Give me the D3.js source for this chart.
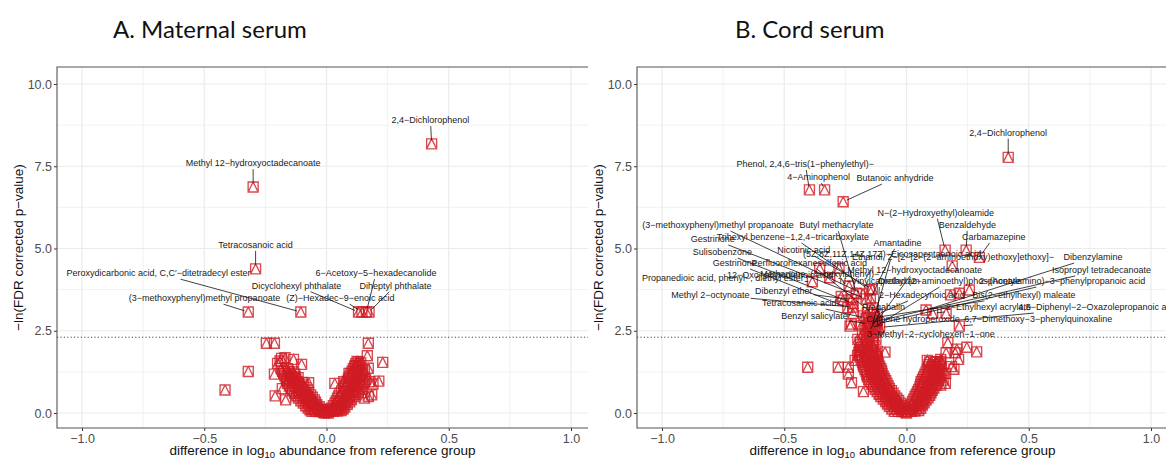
<!DOCTYPE html>
<html>
<head>
<meta charset="utf-8">
<script src="https://cdn.jsdelivr.net/npm/d3@7"></script>
<style>
body { margin: 0; background: #fff; }
svg { display: block; }
</style>
</head>
<body>
<script>
// axis ticks
const xTicks = [-1, -0.5, 0, 0.5, 1];
const xMinor = [-0.75, -0.25, 0.25, 0.75];
const yTicks = [0, 2.5, 5, 7.5, 10];
const yMinor = [1.25, 3.75, 6.25, 8.75];
const fdrCut = 2.303;  // -ln(0.1)

// A. maternal serum - labelled compounds
const maternalHits = [
    { name: "2,4−Dichlorophenol", x: 0.43, y: 8.18 },
    { name: "Methyl 12−hydroxyoctadecanoate", x: -0.30, y: 6.87 },
    { name: "Tetracosanoic acid", x: -0.29, y: 4.38 },
    { name: "Peroxydicarbonic acid, C,C′−ditetradecyl ester", x: -0.105, y: 3.07 },
    { name: "(3−methoxyphenyl)methyl propanoate", x: -0.32, y: 3.07 },
    { name: "(Z)−Hexadec−9−enoic acid", x: 0.145, y: 3.07 },
    { name: "Dicyclohexyl phthalate", x: 0.131, y: 3.07 },
    { name: "6−Acetoxy−5−hexadecanolide", x: 0.163, y: 3.07 },
    { name: "Diheptyl phthalate", x: 0.174, y: 3.07 }
];
// where the repelled labels ended up (data units)
const maternalLabelAt = [
    [0.425, 8.9], [-0.30, 7.59], [-0.29, 5.11], [-0.687, 4.25], [-0.499, 3.49],
    [0.057, 3.49], [-0.123, 3.87], [0.2025, 4.25], [0.282, 3.87]
];
const maternalSpread = [
    [-0.415, 0.70], [-0.32, 1.26], [-0.246, 2.12], [-0.213, 2.12], [-0.213, 1.18],
    [-0.21, 0.52], [-0.184, 1.66], [-0.2, 1.51], [-0.19, 1.58], [-0.17, 1.68],
    [-0.135, 1.63], [-0.102, 1.48], [-0.116, 1.07], [-0.16, 1.0], [-0.073, 0.92],
    [-0.181, 0.74], [-0.167, 0.4], [-0.152, 1.02], [0.171, 2.12], [0.167, 1.74],
    [0.171, 1.36], [0.23, 1.54], [0.214, 0.97], [0.178, 0.95], [0.19, 0.88],
    [0.171, 0.5], [0.185, 0.55], [0.12, 1.44], [0.13, 1.55], [0.155, 1.3],
    [0.145, 0.62], [0.155, 0.45], [0.034, 0.9], [0.07, 0.95], [0.092, 1.2]
];
const maternalCore = [
    [-0.06, 0.05], [-0.045, 0.05], [-0.03, 0.04], [-0.015, 0.03], [0, 0.02], [-0.008, 0.0], [0.008, 0.0],
    [-0.075, 0.15], [-0.055, 0.15], [-0.035, 0.14], [-0.02, 0.12],
    [-0.095, 0.3], [-0.075, 0.3], [-0.055, 0.28], [-0.04, 0.25],
    [-0.115, 0.45], [-0.09, 0.45], [-0.07, 0.42], [-0.05, 0.4],
    [-0.13, 0.6], [-0.11, 0.6], [-0.085, 0.58], [-0.065, 0.55],
    [-0.145, 0.75], [-0.12, 0.75], [-0.1, 0.72], [-0.08, 0.7],
    [-0.16, 0.9], [-0.135, 0.9], [-0.115, 0.88], [-0.095, 0.85],
    [-0.165, 1.05], [-0.14, 1.05], [-0.125, 1.02],
    [-0.175, 1.2], [-0.15, 1.2], [-0.13, 1.18],
    [-0.185, 1.35], [-0.16, 1.35],
    [0.015, 0.05], [0.03, 0.05], [0.045, 0.06], [0.06, 0.07],
    [0.02, 0.15], [0.04, 0.15], [0.06, 0.16], [0.075, 0.18],
    [0.035, 0.3], [0.055, 0.3], [0.075, 0.32], [0.095, 0.34],
    [0.045, 0.45], [0.065, 0.45], [0.09, 0.47], [0.11, 0.5],
    [0.055, 0.6], [0.08, 0.6], [0.1, 0.62], [0.125, 0.65],
    [0.07, 0.75], [0.09, 0.75], [0.115, 0.78], [0.14, 0.8],
    [0.08, 0.9], [0.105, 0.9], [0.13, 0.93], [0.155, 0.95],
    [0.09, 1.05], [0.115, 1.05], [0.14, 1.08],
    [0.1, 1.2], [0.125, 1.2], [0.145, 1.22],
    [0.11, 1.35], [0.13, 1.38],
    [0.12, 1.5], [0.14, 1.52]
];
const maternalCoreFill = [
    [-0.0675, 0.1], [-0.05, 0.1], [-0.0325, 0.1], [-0.018, 0.08], [-0.005, 0.06],
    [-0.085, 0.22], [-0.065, 0.22], [-0.045, 0.21], [-0.03, 0.19],
    [-0.105, 0.37], [-0.083, 0.37], [-0.063, 0.35], [-0.045, 0.33],
    [-0.122, 0.52], [-0.1, 0.52], [-0.078, 0.5], [-0.058, 0.48],
    [-0.138, 0.67], [-0.115, 0.67], [-0.093, 0.65], [-0.073, 0.62],
    [-0.152, 0.82], [-0.128, 0.82], [-0.108, 0.8], [-0.088, 0.78],
    [-0.162, 0.97], [-0.138, 0.97], [-0.12, 0.95], [-0.1, 0.93],
    [-0.17, 1.12], [-0.145, 1.12], [-0.128, 1.1],
    [-0.18, 1.27], [-0.155, 1.27], [-0.135, 1.25],
    [0.005, 0.1], [0.022, 0.1], [0.038, 0.1], [0.052, 0.11], [0.068, 0.12],
    [0.028, 0.22], [0.048, 0.22], [0.068, 0.24], [0.085, 0.26],
    [0.04, 0.37], [0.06, 0.37], [0.082, 0.39], [0.102, 0.41],
    [0.05, 0.52], [0.072, 0.52], [0.095, 0.54], [0.118, 0.57],
    [0.062, 0.67], [0.085, 0.67], [0.108, 0.7], [0.132, 0.72],
    [0.075, 0.82], [0.098, 0.82], [0.122, 0.85], [0.148, 0.88],
    [0.085, 0.97], [0.11, 0.97], [0.135, 1.0], [0.16, 1.02],
    [0.095, 1.12], [0.12, 1.12], [0.142, 1.15],
    [0.105, 1.27], [0.128, 1.27], [0.148, 1.3],
    [0.115, 1.42], [0.135, 1.45], [0.125, 1.57]
];

// B. cord serum - labelled compounds
const cordHits = [
    { name: "2,4−Dichlorophenol", x: 0.416, y: 7.77 },
    { name: "Phenol, 2,4,6−tris(1−phenylethyl)−", x: -0.397, y: 6.78 },
    { name: "4−Aminophenol", x: -0.335, y: 6.78 },
    { name: "Butanoic anhydride", x: -0.259, y: 6.42 },
    { name: "N−(2−Hydroxyethyl)oleamide", x: 0.158, y: 4.95 },
    { name: "Benzaldehyde", x: 0.244, y: 4.95 },
    { name: "Carbamazepine", x: 0.298, y: 4.73 },
    { name: "(3−methoxyphenyl)methyl propanoate", x: -0.178, y: 3.62 },
    { name: "Butyl methacrylate", x: -0.205, y: 3.64 },
    { name: "Trihexyl benzene−1,2,4−tricarboxylate", x: -0.151, y: 3.74 },
    { name: "Gestrinone", x: -0.165, y: 3.47 },
    { name: "Amantadine", x: -0.148, y: 3.47 },
    { name: "Sulisobenzone", x: -0.219, y: 3.33 },
    { name: "Nicotinic acid", x: -0.14, y: 3.76 },
    { name: "(5Z,8Z,11Z,14Z,17Z)−Eicosapentaenoic acid", x: -0.144, y: 2.57 },
    { name: "Ethanol, 2−[2−[2−(2−aminoethoxy)ethoxy]ethoxy]−", x: 0.187, y: 4.47 },
    { name: "Dibenzylamine", x: 0.08, y: 3.13 },
    { name: "Isopropyl tetradecanoate", x: -0.151, y: 2.74 },
    { name: "Perfluorohexanesulfonic acid", x: -0.135, y: 3.0 },
    { name: "Gestrinone", x: -0.24, y: 3.2 },
    { name: "Methyl 12−hydroxyoctadecanoate", x: -0.12, y: 2.8 },
    { name: "Propanedioic acid, phenyl−, diethyl ester", x: -0.385, y: 3.99 },
    { name: "12−Oxo−phytodienoic acid", x: -0.314, y: 4.11 },
    { name: "Methanone, (4−hexylphenyl)−", x: -0.276, y: 4.40 },
    { name: "N−Vinylcaprolactam", x: -0.12, y: 2.55 },
    { name: "Diethyl (2−aminoethyl)phosphonate", x: -0.13, y: 2.62 },
    { name: "2−(Acetylamino)−3−phenylpropanoic acid", x: -0.125, y: 2.7 },
    { name: "Methyl 2−octynoate", x: -0.22, y: 3.22 },
    { name: "Dibenzyl ether", x: -0.226, y: 3.45 },
    { name: "2−Hexadecynoic acid", x: -0.12, y: 3.0 },
    { name: "Bis(2−ethylhexyl) maleate", x: -0.13, y: 2.9 },
    { name: "Tetracosanoic acid", x: -0.165, y: 2.88 },
    { name: "Pregabalin", x: -0.155, y: 2.45 },
    { name: "2−Ethylhexyl acrylate", x: 0.107, y: 3.03 },
    { name: "4,5−Diphenyl−2−Oxazolepropanoic acid", x: -0.11, y: 2.6 },
    { name: "Benzyl salicylate", x: -0.154, y: 2.71 },
    { name: "Cumene hydroperoxide", x: -0.15, y: 2.6 },
    { name: "6,7−Dimethoxy−3−phenylquinoxaline", x: 0.216, y: 2.64 },
    { name: "3−Methyl−2−cyclohexen−1−one", x: -0.14, y: 2.45 }
];
const cordLabelAt = [
    [0.416, 8.52], [-0.414, 7.57], [-0.359, 7.17], [-0.047, 7.14], [0.12, 6.09],
    [0.249, 5.71], [0.357, 5.35], [-0.771, 5.71], [-0.286, 5.71], [-0.465, 5.35],
    [-0.792, 5.29], [-0.037, 5.17], [-0.753, 4.89], [-0.42, 4.95], [-0.059, 4.83],
    [0.19, 4.74], [0.763, 4.74], [0.798, 4.35], [-0.398, 4.56], [-0.702, 4.56],
    [0.033, 4.35], [-0.751, 4.1], [-0.516, 4.19], [-0.355, 4.22], [-0.11, 4.01],
    [0.175, 4.01], [0.637, 4.01], [-0.802, 3.59], [-0.502, 3.71], [0.063, 3.59],
    [0.48, 3.59], [-0.439, 3.34], [-0.094, 3.22], [0.335, 3.22], [0.784, 3.22],
    [-0.376, 2.95], [0.027, 2.86], [0.539, 2.86], [0.1, 2.4]
];
const cordSpread = [
    [-0.355, 4.40], [-0.26, 3.43], [-0.267, 3.54], [-0.235, 3.86], [-0.226, 2.70],
    [-0.219, 3.03], [-0.14, 3.2], [-0.16, 3.05], [-0.175, 2.95], [-0.135, 2.35],
    [-0.15, 2.35], [-0.165, 2.5], [-0.125, 2.45], [-0.231, 2.64], [-0.159, 2.62],
    [-0.18, 2.4], [-0.17, 2.55], [-0.145, 2.7], [-0.13, 2.8], [-0.155, 2.9],
    [-0.185, 2.65], [0.18, 3.59], [0.216, 3.64], [0.257, 3.74], [0.162, 3.03],
    [-0.404, 1.39], [-0.279, 1.39], [-0.238, 1.39], [-0.238, 1.18], [-0.225, 0.92],
    [-0.176, 0.65], [-0.199, 2.24], [-0.162, 2.24], [-0.125, 2.24], [-0.19, 1.91],
    [-0.155, 1.9], [-0.12, 1.88], [-0.088, 1.85], [-0.2, 1.75], [-0.21, 1.6],
    [0.169, 2.14], [0.206, 1.94], [0.247, 2.0], [0.287, 1.86], [0.162, 1.83],
    [0.199, 1.83], [0.14, 1.63], [0.213, 1.63], [0.184, 1.41], [0.194, 1.33],
    [0.159, 0.9], [0.085, 1.6], [0.125, 1.55], [0.16, 1.2], [0.15, 1.0], [0.14, 0.85]
];
const cordCore = [
    [-0.05, 0.05], [-0.035, 0.05], [-0.02, 0.04], [-0.005, 0.03], [0, 0.0],
    [-0.07, 0.2], [-0.05, 0.2], [-0.03, 0.18], [-0.015, 0.15],
    [-0.085, 0.35], [-0.065, 0.35], [-0.045, 0.33], [-0.025, 0.3],
    [-0.105, 0.5], [-0.085, 0.5], [-0.06, 0.48], [-0.04, 0.45],
    [-0.12, 0.65], [-0.1, 0.65], [-0.075, 0.63], [-0.055, 0.6],
    [-0.135, 0.8], [-0.115, 0.8], [-0.09, 0.78], [-0.07, 0.75],
    [-0.15, 0.95], [-0.125, 0.95], [-0.1, 0.93], [-0.08, 0.9],
    [-0.16, 1.1], [-0.135, 1.1], [-0.11, 1.08], [-0.09, 1.05],
    [-0.165, 1.25], [-0.145, 1.25], [-0.12, 1.23], [-0.1, 1.2],
    [-0.175, 1.4], [-0.15, 1.4], [-0.13, 1.38], [-0.105, 1.35],
    [-0.18, 1.55], [-0.16, 1.55], [-0.135, 1.53], [-0.115, 1.5],
    [-0.19, 1.7], [-0.165, 1.7], [-0.14, 1.68], [-0.12, 1.65],
    [-0.195, 1.85], [-0.17, 1.85], [-0.145, 1.83], [-0.125, 1.8],
    [-0.185, 2.0], [-0.16, 2.0], [-0.135, 2.0],
    [-0.19, 2.15], [-0.165, 2.15], [-0.14, 2.12],
    [0.005, 0.05], [0.02, 0.05], [0.035, 0.06], [0.05, 0.07],
    [0.015, 0.2], [0.03, 0.2], [0.05, 0.22], [0.065, 0.24],
    [0.025, 0.35], [0.045, 0.35], [0.065, 0.37], [0.08, 0.39],
    [0.035, 0.5], [0.055, 0.5], [0.075, 0.52], [0.095, 0.54],
    [0.045, 0.65], [0.065, 0.65], [0.085, 0.67], [0.105, 0.69],
    [0.055, 0.8], [0.075, 0.8], [0.1, 0.82], [0.12, 0.84],
    [0.06, 0.95], [0.085, 0.95], [0.11, 0.97], [0.13, 0.99],
    [0.07, 1.1], [0.095, 1.1], [0.12, 1.12], [0.14, 1.14],
    [0.08, 1.25], [0.105, 1.25], [0.13, 1.27],
    [0.09, 1.4], [0.11, 1.4], [0.135, 1.42],
    [0.095, 1.55], [0.12, 1.55], [0.14, 1.57]
];
const cordCoreFill = [
    [-0.06, 0.12], [-0.042, 0.12], [-0.025, 0.11], [-0.01, 0.09],
    [-0.078, 0.27], [-0.058, 0.27], [-0.038, 0.25], [-0.02, 0.23],
    [-0.095, 0.42], [-0.075, 0.42], [-0.052, 0.4], [-0.032, 0.38],
    [-0.112, 0.57], [-0.092, 0.57], [-0.068, 0.55], [-0.048, 0.52],
    [-0.128, 0.72], [-0.108, 0.72], [-0.083, 0.7], [-0.062, 0.68],
    [-0.142, 0.87], [-0.12, 0.87], [-0.095, 0.85], [-0.075, 0.82],
    [-0.155, 1.02], [-0.13, 1.02], [-0.105, 1.0], [-0.085, 0.98],
    [-0.162, 1.17], [-0.14, 1.17], [-0.115, 1.15], [-0.095, 1.12],
    [-0.17, 1.32], [-0.148, 1.32], [-0.125, 1.3], [-0.102, 1.28],
    [-0.178, 1.47], [-0.155, 1.47], [-0.132, 1.45], [-0.11, 1.42],
    [-0.185, 1.62], [-0.162, 1.62], [-0.138, 1.6], [-0.118, 1.58],
    [-0.192, 1.77], [-0.168, 1.77], [-0.142, 1.75], [-0.122, 1.72],
    [-0.19, 1.92], [-0.165, 1.92], [-0.14, 1.9],
    [-0.188, 2.07], [-0.162, 2.07], [-0.138, 2.05],
    [0.012, 0.12], [0.028, 0.12], [0.042, 0.13], [0.058, 0.14],
    [0.02, 0.27], [0.038, 0.27], [0.058, 0.29], [0.072, 0.31],
    [0.03, 0.42], [0.05, 0.42], [0.07, 0.44], [0.088, 0.46],
    [0.04, 0.57], [0.06, 0.57], [0.08, 0.59], [0.1, 0.61],
    [0.05, 0.72], [0.07, 0.72], [0.092, 0.74], [0.112, 0.76],
    [0.058, 0.87], [0.08, 0.87], [0.105, 0.89], [0.125, 0.91],
    [0.065, 1.02], [0.09, 1.02], [0.115, 1.04], [0.135, 1.06],
    [0.075, 1.17], [0.1, 1.17], [0.125, 1.19], [0.145, 1.21],
    [0.085, 1.32], [0.108, 1.32], [0.132, 1.34],
    [0.092, 1.47], [0.115, 1.47], [0.138, 1.49]
];

const svg = d3.select("body").append("svg")
    .attr("width", 1166)
    .attr("height", 459)
    .style("font-family", "'Liberation Sans', Arial, sans-serif");

const red = "#d01c24";
const marker = "M-5,-5H5V5H-5ZM-5,5L0,-5L5,5";  // square with triangle inside

function drawPanel(o) {
    const left = o.left, right = o.left + 531, top = 67, bottom = 428;
    const x = d3.scaleLinear().domain([-1, 1]).range([left + 25, left + 514]);
    const y = d3.scaleLinear().domain([0, 10]).range([413, 84]);
    const g = svg.append("g");

    // grid
    g.selectAll(".xmin").data(xMinor).join("line")
        .attr("x1", d => x(d)).attr("x2", d => x(d)).attr("y1", top).attr("y2", bottom)
        .attr("stroke", "#ebebeb").attr("stroke-width", 0.7);
    g.selectAll(".ymin").data(yMinor).join("line")
        .attr("x1", left).attr("x2", right).attr("y1", d => y(d)).attr("y2", d => y(d))
        .attr("stroke", "#ebebeb").attr("stroke-width", 0.7);
    g.selectAll(".xmaj").data(xTicks).join("line")
        .attr("x1", d => x(d)).attr("x2", d => x(d)).attr("y1", top).attr("y2", bottom)
        .attr("stroke", "#ebebeb").attr("stroke-width", 1.2);
    g.selectAll(".ymaj").data(yTicks).join("line")
        .attr("x1", left).attr("x2", right).attr("y1", d => y(d)).attr("y2", d => y(d))
        .attr("stroke", "#ebebeb").attr("stroke-width", 1.2);

    // axes
    const xAxis = g.append("g").attr("transform", `translate(0,${bottom})`)
        .call(d3.axisBottom(x).tickValues(xTicks).tickFormat(d3.format(".1f")).tickSize(3).tickPadding(3));
    const yAxis = g.append("g").attr("transform", `translate(${left},0)`)
        .call(d3.axisLeft(y).tickValues(yTicks).tickFormat(d3.format(".1f")).tickSize(3).tickPadding(2));
    [xAxis, yAxis].forEach(a => {
        a.select(".domain").remove();
        a.attr("font-family", null).attr("font-size", 12.5);
        a.selectAll("line").attr("stroke", "#333");
        a.selectAll("text").attr("fill", "#4d4d4d");
    });

    // panel lines: left, bottom, top
    g.append("path")
        .attr("d", `M${right},${top}H${left}V${bottom}H${right}`)
        .attr("fill", "none").attr("stroke", "#555").attr("stroke-width", 1.1);

    // FDR threshold
    g.append("line")
        .attr("x1", left).attr("x2", right).attr("y1", y(fdrCut)).attr("y2", y(fdrCut))
        .attr("stroke", "#333").attr("stroke-width", 0.9).attr("stroke-dasharray", "1.2,2.2");

    // points
    const clipId = "clip-" + o.key;
    svg.append("clipPath").attr("id", clipId).append("rect")
        .attr("x", left).attr("y", top).attr("width", right - left).attr("height", bottom - top);
    const pts = o.core.concat(o.fill, o.spread, o.hits.map(h => [h.x, h.y]));
    g.append("g").attr("clip-path", `url(#${clipId})`)
        .selectAll("path").data(pts).join("path")
        .attr("d", marker)
        .attr("transform", d => `translate(${x(d[0])},${y(d[1])})`)
        .attr("fill", "none").attr("stroke", red).attr("stroke-width", 1.35)
        .attr("stroke-opacity", 0.8);

    // repelled labels with segments
    const segs = g.append("g");
    const labs = g.append("g");
    o.hits.forEach((h, i) => {
        const lx = x(o.labelAt[i][0]), ly = y(o.labelAt[i][1]);
        const t = labs.append("text")
            .attr("x", lx).attr("y", ly)
            .attr("text-anchor", "middle").attr("dominant-baseline", "central")
            .attr("font-size", 9).attr("fill", "#1a1a1a")
            .text(h.name);
        const b = t.node().getBBox();
        const cx = b.x + b.width / 2, cy = b.y + b.height / 2;
        const px = x(h.x), py = y(h.y);
        const dx = px - cx, dy = py - cy;
        const s = Math.min(dx ? (b.width / 2 + 1) / Math.abs(dx) : Infinity,
                           dy ? (b.height / 2 + 1) / Math.abs(dy) : Infinity);
        if (s >= 1) return;
        const len = Math.hypot(dx, dy);
        const e = Math.max(0, 1 - 4 / len);
        segs.append("line")
            .attr("x1", cx + dx * s).attr("y1", cy + dy * s)
            .attr("x2", cx + dx * e).attr("y2", cy + dy * e)
            .attr("stroke", "#111").attr("stroke-width", 0.8);
    });

    // titles
    svg.append("text")
        .attr("x", o.titleX).attr("y", 38)
        .attr("font-family", "Lato, 'Open Sans', sans-serif").attr("font-size", 24)
        .attr("fill", "#111")
        .text(o.title);
    svg.append("text")
        .attr("transform", `translate(${left - 39},${(top + bottom) / 2}) rotate(-90)`)
        .attr("text-anchor", "middle").attr("dominant-baseline", "central")
        .attr("font-size", 13.5).attr("fill", "#111")
        .text("−ln(FDR corrected p−value)");
    const xt = svg.append("text")
        .attr("x", (left + right) / 2).attr("y", 455)
        .attr("text-anchor", "middle")
        .attr("font-size", 13.5).attr("fill", "#111");
    xt.append("tspan").text("difference in log");
    xt.append("tspan").attr("font-size", 9.5).attr("dy", 3).text("10");
    xt.append("tspan").attr("dy", -3).text(" abundance from reference group");
}

drawPanel({ key: "a", left: 57, titleX: 113, title: "A. Maternal serum",
    hits: maternalHits, labelAt: maternalLabelAt, spread: maternalSpread,
    core: maternalCore, fill: maternalCoreFill });
drawPanel({ key: "b", left: 637, titleX: 735, title: "B. Cord serum",
    hits: cordHits, labelAt: cordLabelAt, spread: cordSpread,
    core: cordCore, fill: cordCoreFill });
</script>
</body>
</html>
